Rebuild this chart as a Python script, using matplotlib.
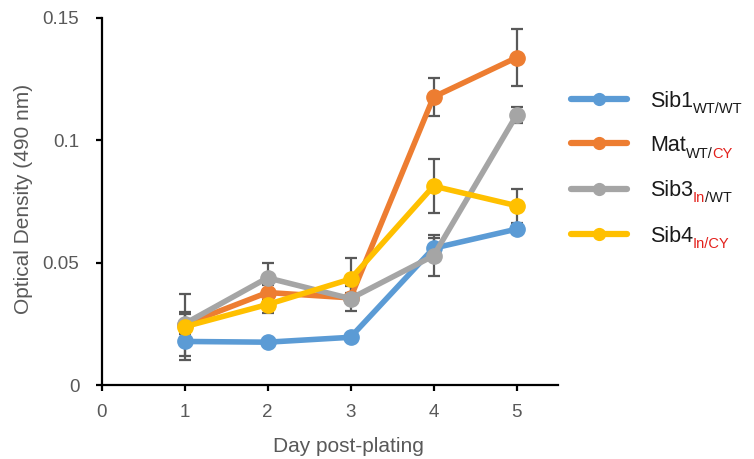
import matplotlib
matplotlib.use("Agg")
import matplotlib.pyplot as plt
from matplotlib.lines import Line2D

plt.rcParams['font.family'] = ['Liberation Sans', 'DejaVu Sans']

# ------------------------------------------------------------------
# Data: mean optical density per day, with error bars
# ------------------------------------------------------------------
days = [1, 2, 3, 4, 5]

sib1 = [0.0178, 0.0175, 0.0195, 0.0559, 0.0637]
mat  = [0.0247, 0.0378, 0.0356, 0.1177, 0.1338]
sib3 = [0.0250, 0.0438, 0.0353, 0.0528, 0.1103]
sib4 = [0.0238, 0.0329, 0.0433, 0.0813, 0.0733]

sib1_err = [0.0060, 0.0010, 0.0010, 0.0040, 0.0020]
mat_err  = [0.0050, 0.0030, 0.0020, 0.0077, 0.0115]
sib3_err = [0.0040, 0.0060, 0.0050, 0.0084, 0.0034]
sib4_err = [0.0135, 0.0035, 0.0086, 0.0110, 0.0070]

series_names = ['Sib1', 'Mat', 'Sib3', 'Sib4']
# subscript pieces as (text, is_red)
series_subs = [
    [('WT/WT', False)],
    [('WT/', False), ('CY', True)],
    [('In', True), ('/WT', False)],
    [('In/CY', True)],
]
series_colors = ['#5B9BD5', '#ED7D31', '#A5A5A5', '#FFC000']

xticks = [0, 1, 2, 3, 4, 5]
yticks = [0, 0.05, 0.1, 0.15]
ytick_labels = ['0', '0.05', '0.1', '0.15']

values = [sib1, mat, sib3, sib4]
errors = [sib1_err, mat_err, sib3_err, sib4_err]

W, H = 754, 459
GRAY = '#595959'
RED = '#E3201B'

fig = plt.figure(figsize=(W / 100, H / 100), dpi=100)
ax = fig.add_axes([101.5 / W, 1 - 385 / H, (558 - 101.5) / W, (385 - 18) / H])

# error bars underneath all lines
for vals, errs in zip(values, errors):
    ax.errorbar(days, vals, yerr=errs, fmt='none', ecolor=GRAY,
                elinewidth=1.6, capsize=4, capthick=1.6, zorder=2)

for i, (vals, col) in enumerate(zip(values, series_colors)):
    ax.plot(days, vals, color=col, lw=4, marker='o', markersize=11,
            solid_capstyle='round', zorder=3 + i)

ax.set_xlim(0, 5.5)
ax.set_ylim(0, 0.15)
ax.set_xticks(xticks)
ax.set_yticks(yticks)
ax.set_yticklabels(ytick_labels)

for side in ['top', 'right']:
    ax.spines[side].set_visible(False)
for side in ['left', 'bottom']:
    ax.spines[side].set_linewidth(1.6)
    ax.spines[side].set_color('black')
    ax.spines[side].set_zorder(10)

ax.tick_params(axis='both', direction='out', length=4, width=1.6, color='black',
               labelsize=13.5, labelcolor=GRAY)
ax.tick_params(axis='x', pad=10)
ax.tick_params(axis='y', pad=12)
ax.set_facecolor('none')

fig.text(24 / W, 1 - 199 / H, 'Optical Density (490 nm)', rotation=90,
         ha='center', va='center', fontsize=15, color=GRAY)
fig.text(348 / W, 1 - 446 / H, 'Day post-plating',
         ha='center', va='center', fontsize=15, color=GRAY)

# ------------------------------------------------------------------
# Legend drawn by hand so the subscripts can carry two colours
# ------------------------------------------------------------------
renderer = fig.canvas.get_renderer()
row_y = [99, 143.5, 188.5, 234]
for name, subs, col, ry in zip(series_names, series_subs, series_colors, row_y):
    yf = 1 - ry / H
    fig.add_artist(Line2D([571 / W, 627 / W], [yf, yf], transform=fig.transFigure,
                          color=col, lw=4.5, solid_capstyle='round'))
    fig.add_artist(Line2D([599 / W], [yf], transform=fig.transFigure,
                          color=col, marker='o', markersize=8.5, lw=0))
    base = 1 - (ry + 7.5) / H
    t = fig.text(650 / W, base, name, fontsize=15.5, color='#1a1a1a',
                 ha='left', va='baseline')
    x_px = t.get_window_extent(renderer).x1
    sub_base = 1 - (ry + 14) / H
    for piece, is_red in subs:
        s = fig.text(x_px / W, sub_base, piece, fontsize=10.5,
                     color=RED if is_red else '#1a1a1a', ha='left', va='baseline')
        x_px = s.get_window_extent(renderer).x1

fig.savefig('out.png', dpi=100)
